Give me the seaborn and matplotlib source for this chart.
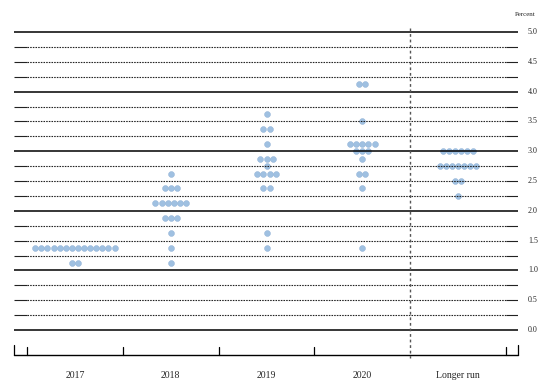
import numpy as np
import pandas as pd
import matplotlib
matplotlib.use("Agg")
import matplotlib.pyplot as plt
import seaborn as sns

# ---- data (midpoints of target ranges, number of participants) ----
columns = ["2017", "2018", "2019", "2020", "Longer run"]
levels_2017 = [1.125, 1.375]
counts_2017 = [2, 14]
levels_2018 = [1.125, 1.375, 1.625, 1.875, 2.125, 2.375, 2.625]
counts_2018 = [1, 1, 1, 3, 6, 3, 1]
levels_2019 = [1.375, 1.625, 2.375, 2.625, 2.75, 2.875, 3.125, 3.375, 3.625]
counts_2019 = [1, 1, 2, 4, 1, 3, 1, 2, 1]
levels_2020 = [1.375, 2.375, 2.625, 2.875, 3.0, 3.125, 3.5, 4.125]
counts_2020 = [1, 1, 2, 1, 3, 5, 1, 2]
levels_lr = [2.25, 2.5, 2.75, 3.0]
counts_lr = [1, 2, 7, 6]
y_ticks = [0.0, 0.5, 1.0, 1.5, 2.0, 2.5, 3.0, 3.5, 4.0, 4.5, 5.0]

all_levels = [levels_2017, levels_2018, levels_2019, levels_2020, levels_lr]
all_counts = [counts_2017, counts_2018, counts_2019, counts_2020, counts_lr]

spacing = 0.0637
rows = []
for ci, (lv, ct) in enumerate(zip(all_levels, all_counts)):
    for v, n in zip(lv, ct):
        for j in range(n):
            rows.append({"col": columns[ci], "x": ci + (j - (n - 1) / 2) * spacing, "rate": v})
df = pd.DataFrame(rows)

sns.set_style("white")
plt.rcParams["font.family"] = ["Liberation Serif", "DejaVu Serif"]

W, H = 549, 392
fig = plt.figure(figsize=(W / 100, H / 100), dpi=100)
fig.patch.set_facecolor("white")
px_top, px_bot = 20, 365
ax = fig.add_axes([14 / W, 1 - px_bot / H, (518 - 14) / W, (px_bot - px_top) / H])
ppu = 59.6
y0px = 330
ax.set_xlim(-0.636, 4.625)
ax.set_ylim((y0px - px_bot) / ppu, (y0px - px_top) / ppu)
ax.axis("off")

xl, xr = -0.636, 4.625
# horizontal grid lines
for v in np.arange(0, 5.001, 0.25):
    if abs(v - round(v)) < 1e-9:
        ax.plot([xl, xr], [v, v], color="black", lw=1.1, zorder=3, solid_capstyle="butt")
    else:
        ax.plot([-0.5, 4.5], [v, v], color="#222222", lw=0.8, ls=(0, (1.4, 1.0)), zorder=3)
        ax.plot([xl, -0.5], [v, v], color="#222222", lw=0.8, zorder=3, solid_capstyle="butt")
        ax.plot([4.5, xr], [v, v], color="#222222", lw=0.8, zorder=3, solid_capstyle="butt")

# dots
sns.scatterplot(data=df, x="x", y="rate", ax=ax, s=18, color="#9fc0e1",
                edgecolor="#8aadd2", linewidth=0.3, zorder=2, legend=False)
ax.set_xlabel("")
ax.set_ylabel("")

# vertical dotted separator
ax.plot([3.5, 3.5], [(y0px - 28) / ppu, (y0px - 358) / ppu], color="#555555",
        lw=1.0, ls=(0, (2, 2)), zorder=3)

# bottom axis
ya = (y0px - 355) / ppu
ax.plot([xl, xr], [ya, ya], color="black", lw=1.0, zorder=3, clip_on=False)
for xt in [xl, xr]:
    ax.plot([xt, xt], [ya, (y0px - 345) / ppu], color="black", lw=0.9, clip_on=False)
for xt in [-0.5, 0.5, 1.5, 2.5, 4.5]:
    ax.plot([xt, xt], [ya, (y0px - 347) / ppu], color="black", lw=0.9, clip_on=False)

for i, c in enumerate(columns):
    ax.text(i, (y0px - 376) / ppu, c, ha="center", va="center", fontsize=7.0, clip_on=False)

# right tick labels
for t in y_ticks:
    ax.text(4.78, t, f"{t:.1f}", ha="center", va="center", fontsize=5.8, clip_on=False)
ax.text(4.70, (y0px - 14) / ppu, "Percent", ha="center", va="center", fontsize=5.0, clip_on=False)

fig.savefig("out.png", dpi=100, facecolor="white")
